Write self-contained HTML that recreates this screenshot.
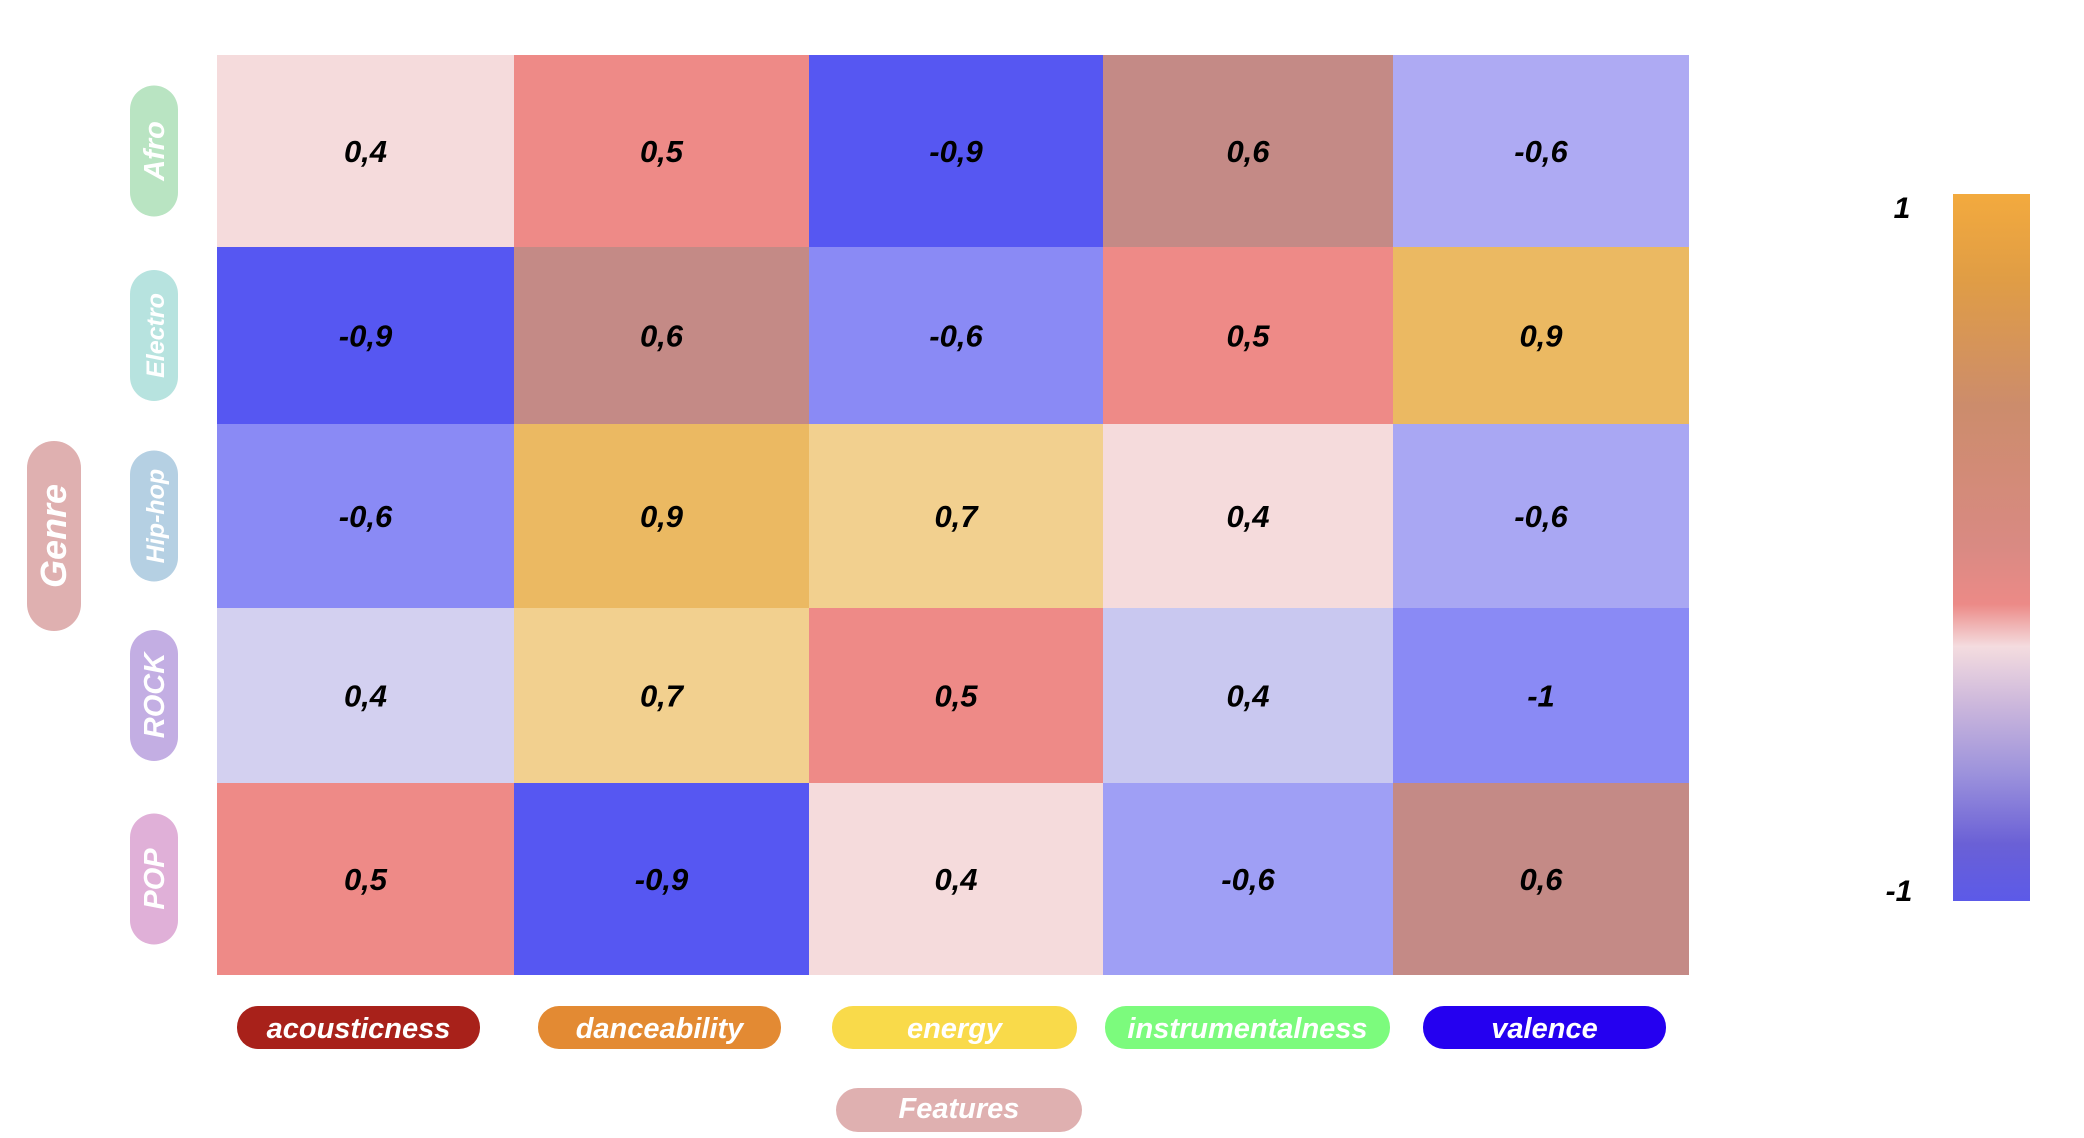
<!DOCTYPE html>
<html><head><meta charset="utf-8"><style>
html,body{margin:0;padding:0;background:#fff;width:2084px;height:1138px;overflow:hidden}
svg text{font-family:"Liberation Sans",sans-serif;font-weight:bold;font-style:italic}
</style></head><body>
<svg id="chart" width="2084" height="1138" viewBox="0 0 2084 1138" xmlns="http://www.w3.org/2000/svg" style="position:absolute;left:0;top:0">
<defs>
<linearGradient id="cbar" x1="0" y1="0" x2="0" y2="1">
<stop offset="0" stop-color="#f3aa3e"/><stop offset="0.12" stop-color="#e09d45"/>
<stop offset="0.3" stop-color="#cc8c6c"/><stop offset="0.5" stop-color="#d98a83"/>
<stop offset="0.58" stop-color="#ec8a87"/><stop offset="0.64" stop-color="#f4dcdf"/>
<stop offset="0.72" stop-color="#cdb8dc"/><stop offset="0.82" stop-color="#9c92dc"/>
<stop offset="0.92" stop-color="#6a60d6"/><stop offset="1" stop-color="#5c5ae8"/>
</linearGradient>
</defs>
<g id="cells"></g>
<g id="labels"></g>
<rect x="1953" y="194" width="77" height="707" fill="url(#cbar)"/>
<text x="1902" y="218" font-size="30" text-anchor="middle">1</text>
<text x="1899" y="901" font-size="30" text-anchor="middle">-1</text>
<rect x="27" y="441" width="54" height="190" rx="27" fill="#dfb0b0"/>
<text transform="translate(66,536) rotate(-90)" text-anchor="middle" fill="#fff" font-size="36">Genre</text>
<rect x="836" y="1088" width="246" height="44" rx="22" fill="#dfb0b0"/>
<text x="959" y="1118" text-anchor="middle" fill="#fff" font-size="29">Features</text>
</svg>
<script>
const genres = ["Afro","Electro","Hip-hop","ROCK","POP"];
const features = ["acousticness","danceability","energy","instrumentalness","valence"];
const rowAfro = [0.4, 0.5, -0.9, 0.6, -0.6];
const rowElectro = [-0.9, 0.6, -0.6, 0.5, 0.9];
const rowHiphop = [-0.6, 0.9, 0.7, 0.4, -0.6];
const rowRock = [0.4, 0.7, 0.5, 0.4, -1];
const rowPop = [0.5, -0.9, 0.4, -0.6, 0.6];
const values = [rowAfro, rowElectro, rowHiphop, rowRock, rowPop];

const colEdges = [217, 514, 809, 1103, 1393, 1689];
const rowEdges = [55, 247, 424, 608, 783, 975];
const genreColors = ["#b9e4c2","#b7e3df","#b5d0e3","#c3aee3","#e0b0d8"];
const featureColors = ["#a8211a","#e38a33","#f9da4a","#7cfb7d","#2500f0"];
const shadeOverrides = {"1,2":"#8a8af5","2,0":"#8a8af5","3,0":"#d3d0f0","3,3":"#c9c8f0","4,3":"#9f9ff5","2,4":"#a9a7f3"};

function colorFor(v){
  const m = {"0.4":"#f5dbdc","0.5":"#ee8a87","0.6":"#c48a86","0.7":"#f2d08f","0.9":"#ebb962","1":"#f3aa3e",
             "-0.6":"#aeaaf3","-0.9":"#5657f2","-1":"#8a8af5","-0.4":"#c9c7f0"};
  const k = String(Math.round(v*10)/10);
  if (m[k]) return m[k];
  const t=(v+1)/2; const a=[86,87,242], b=[243,170,62];
  return "rgb("+a.map((c,i)=>Math.round(c+(b[i]-c)*t)).join(",")+")";
}
function fmt(v){ return String(v).replace(".", ","); }

const NS="http://www.w3.org/2000/svg";
const cells=document.getElementById("cells");
const labels=document.getElementById("labels");
values.forEach((row,r)=>{
  row.forEach((v,c)=>{
    const x0=colEdges[c], x1=colEdges[c+1], y0=rowEdges[r], y1=rowEdges[r+1];
    const rect=document.createElementNS(NS,"rect");
    rect.setAttribute("x",x0); rect.setAttribute("y",y0);
    rect.setAttribute("width",x1-x0); rect.setAttribute("height",y1-y0);
    const key=r+","+c;
    rect.setAttribute("fill",(shadeOverrides[key] && colorFor(v)!==shadeOverrides[key] && Math.abs(v)<1) ? shadeOverrides[key] : colorFor(v));
    
    
    cells.appendChild(rect);
    const t=document.createElementNS(NS,"text");
    t.setAttribute("x",(x0+x1)/2); t.setAttribute("y",(y0+y1)/2+11);
    t.setAttribute("font-size","31"); t.setAttribute("text-anchor","middle");
    t.textContent=fmt(v);
    
    
    cells.appendChild(t);
  });
});
genres.forEach((g,r)=>{
  const cy=(rowEdges[r]+rowEdges[r+1])/2;
  const h=131;
  const p=document.createElementNS(NS,"rect");
  p.setAttribute("x",130); p.setAttribute("y",cy-h/2); p.setAttribute("width",48); p.setAttribute("height",h);
  p.setAttribute("rx",24); p.setAttribute("fill",genreColors[r]);
  
  
  labels.appendChild(p);
  const t=document.createElementNS(NS,"text");
  t.setAttribute("transform","translate(164,"+cy+") rotate(-90)");
  t.setAttribute("text-anchor","middle"); t.setAttribute("fill","#fff");
  t.setAttribute("font-size", g.length>5?"25":"29");
  t.textContent=g;
  
  
  labels.appendChild(t);
});
const pillX = [[237,480],[538,781],[832,1077],[1105,1390],[1423,1666]];
features.forEach((f,c)=>{
  const x0=pillX[c][0], x1=pillX[c][1], cx=(x0+x1)/2;
  const p=document.createElementNS(NS,"rect");
  p.setAttribute("x",x0); p.setAttribute("y",1006); p.setAttribute("width",x1-x0); p.setAttribute("height",43);
  p.setAttribute("rx",21); p.setAttribute("fill",featureColors[c]);
  
  
  labels.appendChild(p);
  const t=document.createElementNS(NS,"text");
  t.setAttribute("x",cx); t.setAttribute("y",1038); t.setAttribute("text-anchor","middle");
  t.setAttribute("fill","#fff"); t.setAttribute("font-size","29");
  t.textContent=f;
  
  
  labels.appendChild(t);
});
</script>
</body></html>
